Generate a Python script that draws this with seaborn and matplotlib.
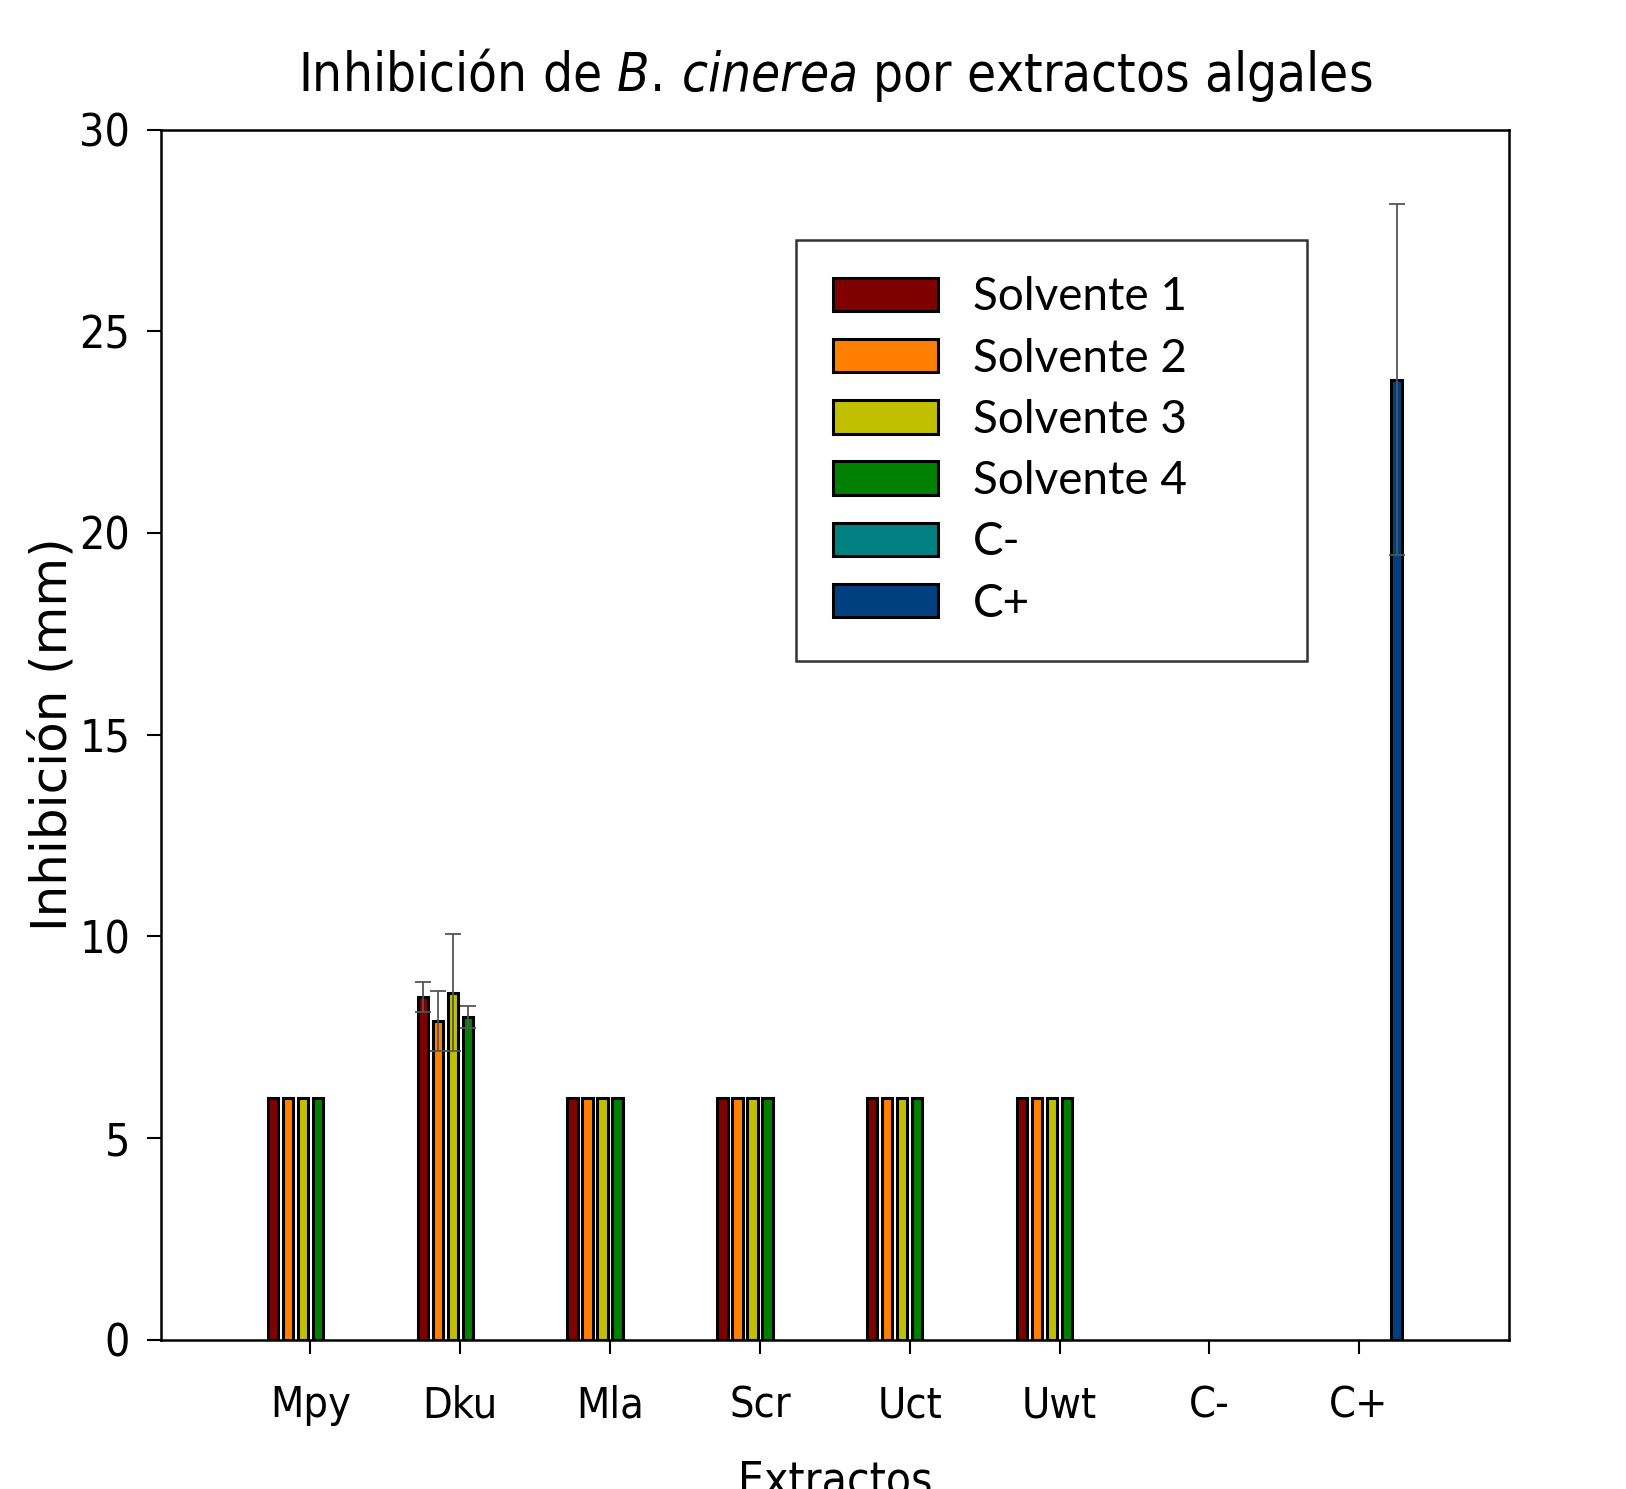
import matplotlib
matplotlib.use("Agg")
import matplotlib.pyplot as plt
import matplotlib.colors as mcolors
import seaborn as sns
import pandas as pd
import numpy as np
from matplotlib.patches import Patch

# ---- data ----
extractos = ["Mpy", "Dku", "Mla", "Scr", "Uct", "Uwt", "C-", "C+"]
solventes = ["Solvente 1", "Solvente 2", "Solvente 3", "Solvente 4", "C-", "C+"]
colores = ["#800000", "#FF8000", "#C0C000", "#008000", "#008080", "#004080"]

s1 = [6.0, 8.5, 6.0, 6.0, 6.0, 6.0]
s2 = [6.0, 7.9, 6.0, 6.0, 6.0, 6.0]
s3 = [6.0, 8.6, 6.0, 6.0, 6.0, 6.0]
s4 = [6.0, 8.0, 6.0, 6.0, 6.0, 6.0]
e1 = [0.0, 0.37, 0.0, 0.0, 0.0, 0.0]
e2 = [0.0, 0.75, 0.0, 0.0, 0.0, 0.0]
e3 = [0.0, 1.45, 0.0, 0.0, 0.0, 0.0]
e4 = [0.0, 0.28, 0.0, 0.0, 0.0, 0.0]
cpos_val = [23.8]
cpos_err = [4.35]

rows = []
for sol, vals, errs in zip(solventes[:4], [s1, s2, s3, s4], [e1, e2, e3, e4]):
    for ex, v, e in zip(extractos[:6], vals, errs):
        rows.append({"Extractos": ex, "Solvente": sol, "Valor": v, "Err": e})
rows.append({"Extractos": "C+", "Solvente": "C+", "Valor": cpos_val[0], "Err": cpos_err[0]})
df = pd.DataFrame(rows)

# ---- style ----
sns.set_style("white")
plt.rcParams["font.family"] = ["DejaVu Sans"]
plt.rcParams["font.stretch"] = "condensed"
plt.rcParams["text.color"] = "black"
plt.rcParams["axes.labelcolor"] = "black"
plt.rcParams["xtick.color"] = "black"
plt.rcParams["ytick.color"] = "black"
plt.rcParams["mathtext.fontset"] = "custom"
plt.rcParams["mathtext.rm"] = "DejaVu Sans:stretch=condensed"
plt.rcParams["mathtext.it"] = "DejaVu Sans:style=italic:stretch=condensed"

fig = plt.figure(figsize=(16.26, 14.89), dpi=100)
ax = fig.add_axes([0.0988, 0.1002, 0.8292, 0.8128])

palette = dict(zip(solventes, colores))
sns.barplot(data=df, x="Extractos", y="Valor", hue="Solvente",
            order=extractos, hue_order=solventes, palette=palette,
            errorbar=None, width=0.6, gap=0.3, dodge=True,
            edgecolor="black", linewidth=2.2, saturation=1, ax=ax,
            legend=False)

# error bars at the bar positions produced by seaborn (hue matched via colour)
color_to_sol = {mcolors.to_hex(c): s for s, c in zip(solventes, colores)}
for patch in ax.patches:
    h = patch.get_height()
    if not np.isfinite(h) or h == 0:
        continue
    sol = color_to_sol.get(mcolors.to_hex(patch.get_facecolor()))
    if sol is None:
        continue
    xc = patch.get_x() + patch.get_width() / 2
    idx = int(round(xc))
    if idx < 0 or idx >= len(extractos):
        continue
    match = df[(df["Solvente"] == sol) & (df["Extractos"] == extractos[idx])]
    if len(match) == 0:
        continue
    err = match["Err"].iloc[0]
    if err > 0:
        ax.errorbar(xc, h, yerr=err, fmt="none", ecolor="#555555",
                    elinewidth=1.3, capsize=6, capthick=1.3, zorder=5)

ax.set_xlim(-1, 8)
ax.set_ylim(0, 30)
ax.set_yticks([0, 5, 10, 15, 20, 25, 30])

for sp in ax.spines.values():
    sp.set_linewidth(1.8)
    sp.set_color("black")
    sp.set_visible(True)

ax.tick_params(axis="y", direction="out", length=10, width=1.5, pad=12,
               labelsize=32, left=True)
ax.tick_params(axis="x", direction="out", length=10, width=1.5, pad=22,
               labelsize=31, bottom=True)

ax.set_xlabel("Extractos", fontsize=33, labelpad=24)
ax.set_ylabel("Inhibición (mm)", fontsize=36, fontstretch="normal", labelpad=2)

ax.set_title(r"Inhibición de $\mathit{B.\,cinerea}$ por extractos algales",
             fontsize=38, pad=28)

handles = [Patch(facecolor=c, edgecolor="black", linewidth=2.2) for c in colores]
leg = ax.legend(handles, solventes, loc="upper left", mode="expand",
                bbox_to_anchor=(0.4715, 0.5647, 0.3785, 0.3443),
                frameon=True, fancybox=False,
                prop={"family": ["Lato", "DejaVu Sans"], "size": 33, "stretch": "normal"},
                handlelength=2.3, handleheight=0.75, labelspacing=0.42,
                handletextpad=0.75, borderpad=0.8, borderaxespad=0)
leg.get_frame().set_edgecolor("black")
leg.get_frame().set_linewidth(1.8)

fig.savefig("out.png", dpi=100)
